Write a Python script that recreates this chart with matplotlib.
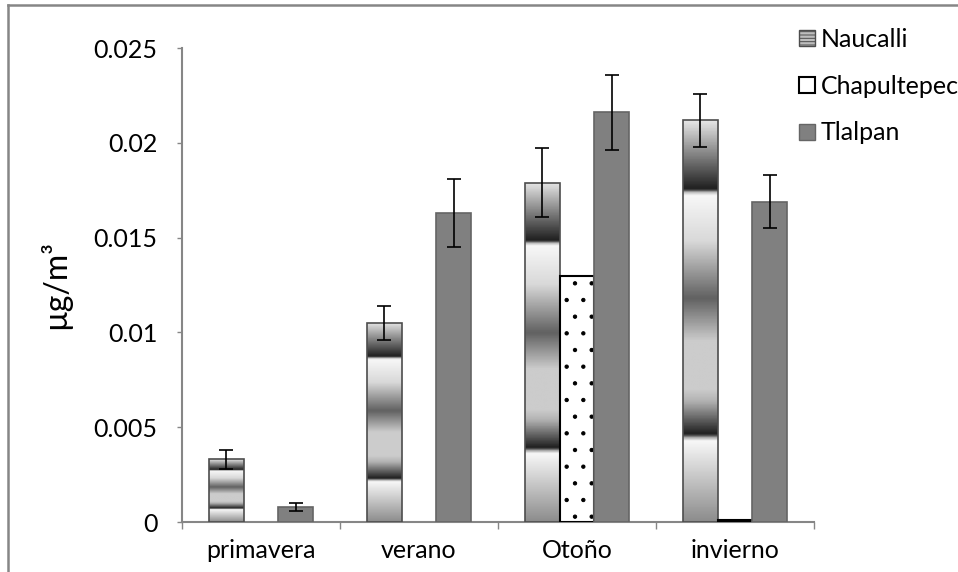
import numpy as np
import matplotlib
matplotlib.use("Agg")
import matplotlib.pyplot as plt
from matplotlib.colors import LinearSegmentedColormap
from matplotlib.patches import Rectangle
from matplotlib.lines import Line2D

plt.rcParams["font.family"] = ["Lato", "DejaVu Sans"]
plt.rcParams["hatch.linewidth"] = 0.7

# ── data ────────────────────────────────────────────────────────────────
seasons = ["primavera", "verano", "Otoño", "invierno"]
naucalli = [0.0033, 0.0105, 0.0179, 0.0212]
naucalli_err = [0.0005, 0.0009, 0.0018, 0.0014]
chapultepec = [0.0, 0.0, 0.0130, 0.0001]
tlalpan = [0.0008, 0.0163, 0.0216, 0.0169]
tlalpan_err = [0.0002, 0.0018, 0.0020, 0.0014]
yticks = [0, 0.005, 0.01, 0.015, 0.02, 0.025]
ytick_labels = ["0", "0.005", "0.01", "0.015", "0.02", "0.025"]

AXIS_GRAY = "#868686"

# banded "chrome" gradient of the Naucalli bars (0 = bottom, 1 = top)
_stops = [(0.0, 0.55), (0.20, 0.97), (0.207, 0.75), (0.218, 0.12),
          (0.30, 0.70), (0.33, 0.80), (0.45, 0.80), (0.557, 0.38),
          (0.70, 0.85), (0.815, 0.97), (0.821, 0.75), (0.830, 0.12),
          (1.0, 0.90)]
chrome = LinearSegmentedColormap.from_list(
    "chrome", [(p, (g, g, g)) for p, g in _stops], N=512)

fig = plt.figure(figsize=(9.58, 5.72), dpi=100)
ax = fig.add_axes([182 / 958, 1 - 522 / 572, 632 / 958, 474 / 572])

x = np.arange(len(seasons))
w = 0.22

nbars = ax.bar(x - w, naucalli, w, color="none", edgecolor="#4d4d4d",
               linewidth=1.2, zorder=3)
grad = np.linspace(0, 1, 400).reshape(-1, 1)
for b in nbars:
    im = ax.imshow(grad, cmap=chrome, origin="lower", aspect="auto",
                   extent=[b.get_x(), b.get_x() + b.get_width(), 0, b.get_height()],
                   zorder=2, interpolation="bilinear")
    im.set_clip_path(b)

ch_edges = ["black" if v > 0 else "none" for v in chapultepec]
ax.bar(x, chapultepec, w, color="white", edgecolor=ch_edges, hatch=".",
       linewidth=1.5, zorder=3)
ax.bar(x + w, tlalpan, w, color="#808080", edgecolor="#656565",
       linewidth=1.2, zorder=3)

ax.errorbar(x - w, naucalli, yerr=naucalli_err, fmt="none", ecolor="black",
            elinewidth=1.2, capsize=5, capthick=1.2, zorder=4)
ax.errorbar(x + w, tlalpan, yerr=tlalpan_err, fmt="none", ecolor="black",
            elinewidth=1.2, capsize=5, capthick=1.2, zorder=4)

ax.set_xlim(-0.5, 3.5)
ax.set_ylim(0, 0.025)

for s in ("top", "right"):
    ax.spines[s].set_visible(False)
for s in ("left", "bottom"):
    ax.spines[s].set_color(AXIS_GRAY)
    ax.spines[s].set_linewidth(1.5)

ax.set_yticks(yticks)
ax.set_yticklabels(ytick_labels)
ax.tick_params(axis="y", length=3.5, width=1, color=AXIS_GRAY, pad=14,
               labelsize=18)
ax.set_xticks(x)
ax.set_xticklabels(seasons)
ax.tick_params(axis="x", length=0, pad=12, labelsize=18)
ax.set_xticks(np.arange(-0.5, 4, 1), minor=True)
ax.tick_params(axis="x", which="minor", length=5, width=1, color=AXIS_GRAY)

fig.text(55 / 958, 1 - 285 / 572, "µg/m³", rotation=90, ha="center",
         va="center", fontsize=23)

handles = [
    Rectangle((0, 0), 1, 1, facecolor="#bdbdbd", edgecolor="#4d4d4d",
              hatch="-----", linewidth=1),
    Rectangle((0, 0), 1, 1, facecolor="white", edgecolor="black", linewidth=1.5),
    Rectangle((0, 0), 1, 1, facecolor="#808080", edgecolor="#656565", linewidth=1),
]
fig.legend(handles, ["Naucalli", "Chapultepec", "Tlalpan"],
           loc="upper left", bbox_to_anchor=(799 / 958, 1 - 28 / 572),
           frameon=False, fontsize=18, handlelength=0.62, handleheight=0.62,
           handletextpad=0.25, labelspacing=0.95, borderpad=0, borderaxespad=0)

# chart-area border (top and left edges visible)
fig.add_artist(Line2D([8 / 958, 1.0], [1 - 5 / 572, 1 - 5 / 572],
                      transform=fig.transFigure, color=AXIS_GRAY, lw=1.8))
fig.add_artist(Line2D([8 / 958, 8 / 958], [0.0, 1 - 5 / 572],
                      transform=fig.transFigure, color=AXIS_GRAY, lw=1.8))

fig.savefig("out.png", dpi=100, facecolor="white")
